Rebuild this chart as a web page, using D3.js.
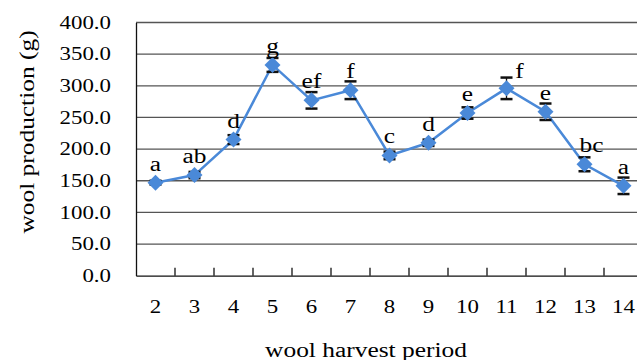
<!DOCTYPE html>
<html>
<head>
<meta charset="utf-8">
<script src="https://cdn.jsdelivr.net/npm/d3@7"></script>
<style>
  body { margin: 0; background: #fff; }
  text { font-family: "Liberation Serif", "Times New Roman", serif; fill: #000; }
</style>
</head>
<body>
<div class="chart_box"></div>
<script>
// data
const periods = ["2", "3", "4", "5", "6", "7", "8", "9", "10", "11", "12", "13", "14"];
const wool = [147, 159, 215, 333, 277, 293, 190, 210, 257, 296, 259, 176, 142];
const errs = [3, 5, 7, 11, 13, 14, 6, 5, 9, 17, 13, 11, 13];
const letters = ["a", "ab", "d", "g", "ef", "f", "c", "d", "e", "f", "e", "bc", "a"];
const yTicks = [0, 50, 100, 150, 200, 250, 300, 350, 400];

const W = 637, H = 360;
const plotLeft = 136, plotRight = 643, plotTop = 22.5, plotBottom = 275.7;

const svg = d3
  .select(".chart_box")
  .append("svg")
  .attr("width", W)
  .attr("height", H);

const xScale = d3.scaleBand().domain(periods).range([plotLeft, plotRight]).padding(0);
const yScale = d3.scaleLinear().domain([0, 400]).range([plotBottom, plotTop]);
const cx = (d) => xScale(d) + xScale.bandwidth() / 2;

// horizontal gridlines
svg
  .append("g")
  .selectAll("line")
  .data(yTicks.filter((t) => t > 0))
  .enter()
  .append("line")
  .attr("x1", plotLeft)
  .attr("x2", plotRight)
  .attr("y1", (d) => yScale(d))
  .attr("y2", (d) => yScale(d))
  .attr("stroke", "#555")
  .attr("stroke-width", 1.3);

// y axis
const yAxis = svg
  .append("g")
  .attr("transform", `translate(${plotLeft},0)`)
  .call(d3.axisLeft(yScale).tickValues(yTicks).tickSize(0).tickPadding(25).tickFormat(d3.format(".1f")));
yAxis.select(".domain").attr("stroke", "#111").attr("stroke-width", 1.3);
yAxis.selectAll("text").attr("font-size", 18).attr("font-family", "Liberation Serif").attr("fill", "#000");

// x axis
const xAxis = svg
  .append("g")
  .attr("transform", `translate(0,${plotBottom})`)
  .call(d3.axisBottom(xScale).tickSize(0).tickPadding(25));
xAxis.select(".domain").attr("stroke", "#111").attr("stroke-width", 1.3);
xAxis.selectAll("text").attr("font-size", 18).attr("font-family", "Liberation Serif").attr("fill", "#000");

// tick marks between categories, pointing up
svg
  .append("g")
  .selectAll("line")
  .data(periods.slice(1))
  .enter()
  .append("line")
  .attr("x1", (d) => xScale(d))
  .attr("x2", (d) => xScale(d))
  .attr("y1", plotBottom)
  .attr("y2", plotBottom - 8)
  .attr("stroke", "#111")
  .attr("stroke-width", 1.3);

const pts = periods.map((p, i) => ({ p, v: wool[i], e: errs[i], l: letters[i] }));

// series line
svg
  .append("path")
  .datum(pts)
  .attr("fill", "none")
  .attr("stroke", "#4a89d8")
  .attr("stroke-width", 2.5)
  .attr("d", d3.line().x((d) => cx(d.p)).y((d) => yScale(d.v)));

// error bars
const eb = svg.append("g").selectAll("g").data(pts).enter().append("g");
eb.append("line")
  .attr("x1", (d) => cx(d.p))
  .attr("x2", (d) => cx(d.p))
  .attr("y1", (d) => yScale(d.v - d.e))
  .attr("y2", (d) => yScale(d.v + d.e))
  .attr("stroke", "#111")
  .attr("stroke-width", 1.3);
[-1, 1].forEach((s) => {
  eb.append("line")
    .attr("x1", (d) => cx(d.p) - 6)
    .attr("x2", (d) => cx(d.p) + 6)
    .attr("y1", (d) => yScale(d.v + s * d.e))
    .attr("y2", (d) => yScale(d.v + s * d.e))
    .attr("stroke", "#111")
    .attr("stroke-width", 2.5);
});

// diamond markers
svg
  .append("g")
  .selectAll("path")
  .data(pts)
  .enter()
  .append("path")
  .attr("transform", (d) => `translate(${cx(d.p)},${yScale(d.v)})`)
  .attr("d", "M0,-8L8,0L0,8L-8,0Z")
  .attr("fill", "#4a89d8");

// significance letters (period 11 and 13 labels sit to the right)
const shift = { 9: 13, 11: 7 };
svg
  .append("g")
  .selectAll("text")
  .data(pts)
  .enter()
  .append("text")
  .attr("x", (d, i) => cx(d.p) + (shift[i] || 0))
  .attr("y", (d, i) => yScale(d.v) - (i === 9 ? 10 : 12))
  .attr("text-anchor", "middle")
  .attr("font-size", 20)
  .text((d) => d.l);

// axis titles
svg
  .append("text")
  .attr("transform", "translate(27,132) rotate(-90)")
  .attr("text-anchor", "middle")
  .attr("dominant-baseline", "central")
  .attr("font-size", 20)
  .text("wool production (g)");

svg
  .append("text")
  .attr("x", 366)
  .attr("y", 357)
  .attr("text-anchor", "middle")
  .attr("font-size", 20)
  .text("wool harvest period");

// the source font is drawn wide; stretch the glyphs to match
svg.selectAll("text").each(function () {
  const w = this.getComputedTextLength();
  this.setAttribute("textLength", w * 1.27);
  this.setAttribute("lengthAdjust", "spacingAndGlyphs");
});
</script>
</body>
</html>
